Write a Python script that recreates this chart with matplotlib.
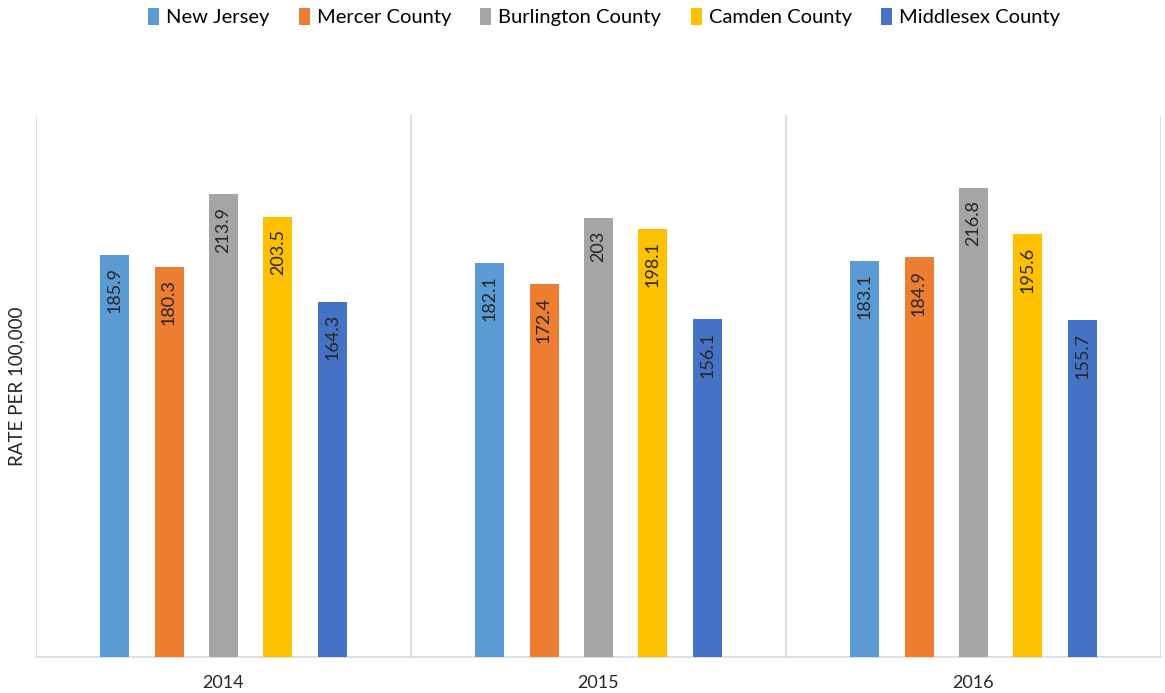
import matplotlib
matplotlib.use("Agg")
import matplotlib.pyplot as plt
import numpy as np

plt.rcParams['font.family'] = ['Lato', 'DejaVu Sans']

years = ["2014", "2015", "2016"]
series = ["New Jersey", "Mercer County", "Burlington County", "Camden County", "Middlesex County"]
new_jersey = [185.9, 182.1, 183.1]
mercer = [180.3, 172.4, 184.9]
burlington = [213.9, 203, 216.8]
camden = [203.5, 198.1, 195.6]
middlesex = [164.3, 156.1, 155.7]
colors = ["#5B9BD5", "#ED7D31", "#A5A5A5", "#FFC000", "#4472C4"]

values = [new_jersey, mercer, burlington, camden, middlesex]

fig = plt.figure(figsize=(11.65, 6.93), dpi=100)
ax = fig.add_axes([36 / 1165, 36 / 693, 1125 / 1165, 542 / 693])

x = np.arange(len(years)) + 0.5
width = 0.0773
step = 0.1453
handles = []
for i, (name, vals, c) in enumerate(zip(series, values, colors)):
    offs = (i - 2) * step
    bars = ax.bar(x + offs, vals, width, color=c, label=name, zorder=3)
    handles.append(bars)
    for b, v in zip(bars, vals):
        lbl = "%g" % v
        ax.annotate(lbl, (b.get_x() + b.get_width() / 2, v),
                    xytext=(0, -9), textcoords="offset points",
                    ha="center", va="top", rotation=90,
                    fontsize=13, color="#262626", zorder=4)

ax.set_xlim(0, 3)
ax.set_ylim(0, 250.6)
ax.set_xticks(x)
ax.set_xticklabels(years, fontsize=13, color="#262626")
ax.tick_params(axis="x", length=0, pad=13)
ax.set_yticks([])
for xv in [0, 1, 2, 3]:
    ax.axvline(xv, color="#d9d9d9", lw=1.2, zorder=1)
for s in ["top", "left", "right"]:
    ax.spines[s].set_visible(False)
ax.spines["bottom"].set_color("#d9d9d9")
ax.spines["bottom"].set_linewidth(1.2)

fig.text(17 / 1165, 1 - 386 / 693, "RATE PER 100,000", rotation=90,
         ha="center", va="center", fontsize=13.5, color="#262626")

fig.legend(handles=handles, labels=series, loc="center", ncol=5,
           bbox_to_anchor=(604 / 1165, 1 - 17 / 693), frameon=False,
           fontsize=14.5, handlelength=0.55, handleheight=0.9,
           handletextpad=0.35, columnspacing=1.45)

fig.savefig("out.png", dpi=100)
